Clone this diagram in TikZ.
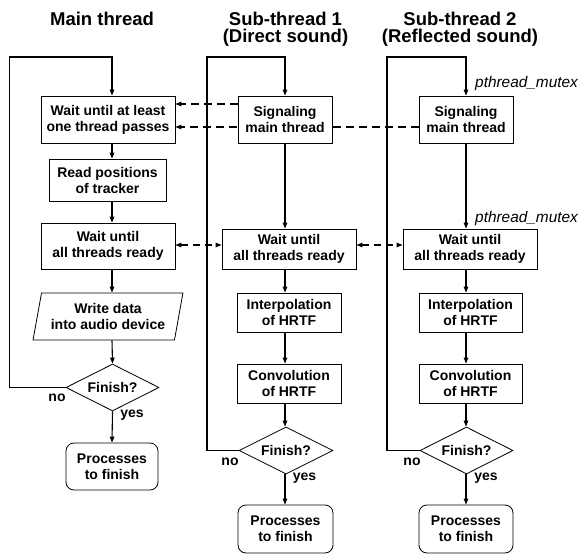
\documentclass[tikz,border=0pt]{standalone}
\usepackage{fontspec}
\setmainfont{Liberation Sans}
\usetikzlibrary{shapes.geometric,arrows.meta}
\pgfdeclarelayer{background}
\pgfsetlayers{background,main}
\begin{document}
\begin{tikzpicture}[x=1pt,y=-1pt,
  boxtext/.style={font=\fontsize{14}{16}\selectfont\bfseries, align=center, inner sep=0pt},
  procbox/.style={boxtext, draw, line width=0.8pt, fill=white, rectangle},
  iobox/.style={boxtext, draw, line width=0.8pt, fill=white, trapezium,
    trapezium left angle=74.5, trapezium right angle=105.5, trapezium stretches=true},
  decbox/.style={boxtext, draw, line width=0.8pt, fill=white, diamond, aspect=2},
  endbox/.style={boxtext, draw, line width=0.8pt, fill=white, rectangle, rounded corners=8pt},
  titletext/.style={font=\fontsize{18.5}{16.3}\selectfont\bfseries, align=center, inner sep=0pt, anchor=north},
  lbl/.style={font=\fontsize{14}{16}\selectfont\bfseries, inner sep=0pt},
  mutexlbl/.style={font=\fontsize{15.4}{18}\selectfont\itshape, inner sep=0pt, anchor=base west},
  flow/.style={line width=1.1pt, -{Triangle[length=6pt,width=4.5pt]}},
  sig/.style={line width=1.1pt, dash pattern=on 8pt off 5pt, -{Triangle[length=6pt,width=4.5pt]}},
  sync/.style={line width=1.1pt, dash pattern=on 7pt off 5pt, {Triangle[length=6pt,width=4.5pt]}-{Triangle[length=6pt,width=4.5pt]}}
]
\useasboundingbox (0,0) rectangle (582,554);

% titles
\node[titletext] (t1) at (102,12.3) {Main thread};
\node[titletext] (t2) at (285.5,12.3) {Sub-thread 1\\(Direct sound)};
\node[titletext] (t3) at (460,12.3) {Sub-thread 2\\(Reflected sound)};

% x positions of flow lines
\coordinate (xm) at (112,0);
\coordinate (xa) at (285,0);
\coordinate (xb) at (466,0);

% main thread
\node[procbox, minimum width=134pt, minimum height=47pt] (w1) at (108,119.5) {Wait until at least\\one thread passes};
\node[procbox, minimum width=117pt, minimum height=42pt] (rp) at (107.5,180) {Read positions\\of tracker};
\node[procbox, minimum width=134pt, minimum height=46pt] (w2) at (108,246) {Wait until\\all threads ready};
\node[iobox, minimum width=150pt, minimum height=47pt] (wd) at (108,316.5) {Write data\\into audio device};
\node[decbox, minimum width=93pt, minimum height=47pt] (d1) at (112.5,387.5) {Finish?};
\node[endbox, minimum width=92pt, minimum height=47pt] (p1) at (112,466.5) {Processes\\to finish};

% sub-thread 1
\node[procbox, minimum width=94pt, minimum height=47pt] (s1) at (285,119.5) {Signaling\\main thread};
\node[procbox, minimum width=134pt, minimum height=40pt] (w3) at (289,249) {Wait until\\all threads ready};
\node[procbox, minimum width=104pt, minimum height=39pt] (i1) at (289,312.5) {Interpolation\\of HRTF};
\node[procbox, minimum width=104pt, minimum height=39pt] (c1) at (289,383.5) {Convolution\\of HRTF};
\node[decbox, minimum width=94pt, minimum height=47pt] (d2) at (286,450.5) {Finish?};
\node[endbox, minimum width=95pt, minimum height=48pt] (p2) at (285.5,529) {Processes\\to finish};

% sub-thread 2
\node[procbox, minimum width=94pt, minimum height=47pt] (s2) at (466,119.5) {Signaling\\main thread};
\node[procbox, minimum width=134pt, minimum height=40pt] (w4) at (470,249) {Wait until\\all threads ready};
\node[procbox, minimum width=103pt, minimum height=39pt] (i2) at (470.5,312.5) {Interpolation\\of HRTF};
\node[procbox, minimum width=103pt, minimum height=39pt] (c2) at (470.5,383.5) {Convolution\\of HRTF};
\node[decbox, minimum width=93pt, minimum height=47pt] (d3) at (466.5,450.5) {Finish?};
\node[endbox, minimum width=94pt, minimum height=48pt] (p3) at (466,529) {Processes\\to finish};

% loop corners
\coordinate (lm) at (9.5,57);
\coordinate (la) at (207,57);
\coordinate (lb) at (387,57);

% main flow
\draw[flow] (d1.west) -- (d1.west -| lm) -- (lm) -- (lm -| xm) -- (w1.north -| xm);
\draw[flow] (w1.south -| xm) -- (rp.north -| xm);
\draw[flow] (rp.south -| xm) -- (w2.north -| xm);
\draw[flow] (w2.south -| xm) -- (wd.north -| xm);
\draw[flow] (wd.south -| xm) -- (d1.north);
\draw[flow] (d1.south) -- (p1.north);

% sub-thread 1 flow
\draw[flow] (d2.west) -- (d2.west -| la) -- (la) -- (la -| xa) -- (s1.north -| xa);
\draw[flow] (s1.south -| xa) -- (w3.north -| xa);
\draw[flow] (w3.south -| xa) -- (i1.north -| xa);
\draw[flow] (i1.south -| xa) -- (c1.north -| xa);
\draw[flow] (c1.south -| xa) -- (d2.north -| xa);
\draw[flow] (d2.south -| xa) -- (p2.north -| xa);

% sub-thread 2 flow
\draw[flow] (d3.west) -- (d3.west -| lb) -- (lb) -- (lb -| xb) -- (s2.north -| xb);
\draw[flow] (s2.south -| xb) -- (w4.north -| xb);
\draw[flow] (w4.south -| xb) -- (i2.north -| xb);
\draw[flow] (i2.south -| xb) -- (c2.north -| xb);
\draw[flow] (c2.south -| xb) -- (d3.north -| xb);
\draw[flow] (d3.south -| xb) -- (p3.north -| xb);

% signaling (dashed)
\coordinate (ys1) at (0,104);
\coordinate (ys2) at (0,127);
\coordinate (yw) at (0,245);
\draw[sig] (s1.west |- ys1) -- (w1.east |- ys1);
\begin{pgfonlayer}{background}
\draw[sig] (s2.west |- ys2) -- (w1.east |- ys2);
\end{pgfonlayer}
\draw[sync] (w2.east |- yw) -- (w3.west |- yw);
\draw[sync] (w3.east |- yw) -- (w4.west |- yw);

% labels
\node[lbl] (n1) at (57,398) {no};
\node[lbl] (y1) at (132,415) {yes};
\node[lbl] (n2) at (230,462) {no};
\node[lbl] (y2) at (304.5,478) {yes};
\node[lbl] (n3) at (412,462) {no};
\node[lbl] (y3) at (486,478) {yes};
\node[mutexlbl] (m1) at (475,87) {pthread\_mutex};
\node[mutexlbl] (m2) at (475,222) {pthread\_mutex};
\end{tikzpicture}
\end{document}
